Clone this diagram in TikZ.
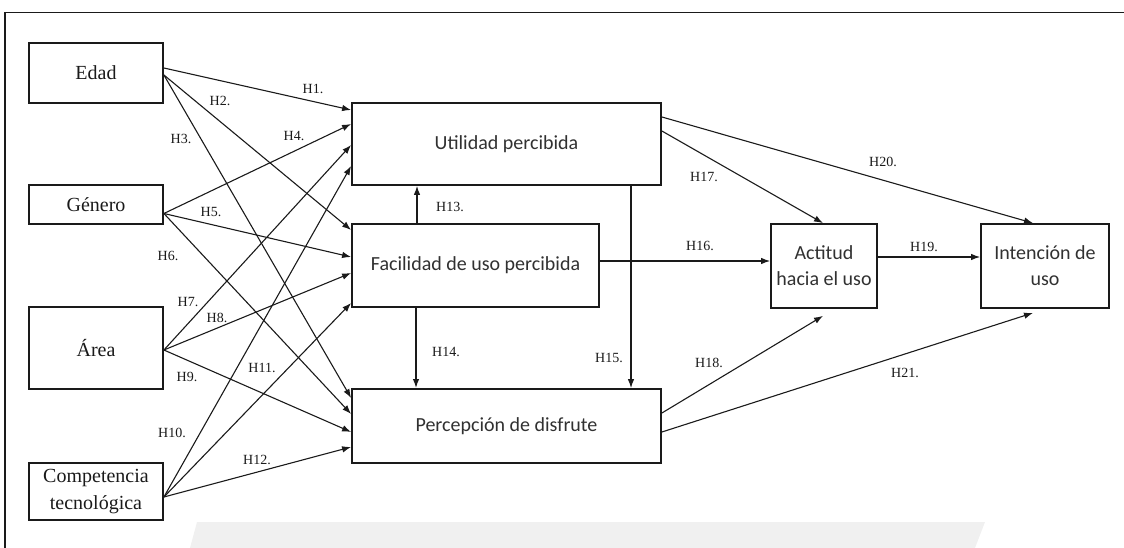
\documentclass[tikz,border=0pt]{standalone}
\usepackage{fontspec}
\setmainfont{Liberation Serif}
\newfontfamily\calib{Carlito}
\usetikzlibrary{arrows.meta}
\definecolor{ink}{HTML}{1A1A1A}
\definecolor{soft}{HTML}{F0F0F0}
\begin{document}
\begin{tikzpicture}[x=1pt,y=-1pt,
  box/.style={draw=ink,line width=1.8pt,fill=white,inner sep=0pt,align=center,
    font=\fontsize{20}{27}\selectfont,text=ink},
  cbox/.style={box,font=\calib\fontsize{20}{26}\selectfont,text=ink!90},
  link/.style={draw=ink,line width=1.1pt,-{Latex[length=9pt,width=6.5pt]}},
  hyp/.style={font=\fontsize{14}{14}\selectfont,inner sep=0pt,text=ink}]
\useasboundingbox (0,0) rectangle (1124,548);

% faint band along the lower edge
\fill[soft] (197,522) -- (985,522) -- (975,548) -- (190,548) -- cycle;

% frame
\draw[ink,line width=1.6pt] (1124,12.5) -- (5,12.5) -- (5,548);

% external variables
\node[box,minimum width=134pt,minimum height=60pt] (edad) at (96,73) {Edad};
\node[box,minimum width=134pt,minimum height=39pt] (gen) at (96,204.5) {Género};
\node[box,minimum width=134pt,minimum height=82pt] (area) at (96,348) {Área};
\node[box,minimum width=134pt,minimum height=57pt] (comp) at (96,491.5) {Competencia\\tecnológica};

% TAM constructs
\node[cbox,minimum width=309pt,minimum height=82pt] (util) at (506.5,144) {Utilidad percibida};
\node[cbox,minimum width=247pt,minimum height=83pt] (fac) at (475.5,265.5) {Facilidad de uso percibida};
\node[cbox,minimum width=309pt,minimum height=74pt] (perc) at (506.5,426) {Percepción de disfrute};
\node[cbox,minimum width=106pt,minimum height=84pt] (act) at (824,266) {Actitud\\hacia el uso};
\node[cbox,minimum width=128pt,minimum height=84pt] (int) at (1045,266) {Intención de\\uso};

% hypotheses from external variables
\draw[link] ([yshift=5pt]edad.east) -- ([yshift=34pt]util.west);
\draw[link] ([yshift=-2pt]edad.east) -- ([yshift=35.5pt]fac.west);
\draw[link] ([yshift=-2pt]edad.east) -- ([yshift=28pt]perc.west);
\draw[link] ([yshift=-9pt]gen.east) -- ([yshift=20pt]util.west);
\draw[link] ([yshift=-9pt]gen.east) -- ([yshift=8.5pt]fac.west);
\draw[link] ([yshift=-9pt]gen.east) -- ([yshift=12pt]perc.west);
\draw[link] ([yshift=-2pt]area.east) -- ([yshift=-1pt]util.west);
\draw[link] ([yshift=-2pt]area.east) -- ([yshift=-7.5pt]fac.west);
\draw[link] ([yshift=-2pt]area.east) -- ([yshift=-6pt]perc.west);
\draw[link] ([yshift=-5.5pt]comp.east) -- ([yshift=-22pt]util.west);
\draw[link] ([yshift=-5.5pt]comp.east) -- ([yshift=-37.5pt]fac.west);
\draw[link] ([yshift=-5.5pt]comp.east) -- ([yshift=-21pt]perc.west);

% hypotheses among constructs
\draw[link] ([xshift=-58.5pt]fac.north) -- ([xshift=-58.5pt]fac.north |- util.south);
\draw[link,line width=1.5pt] ([xshift=-59.5pt]fac.south) -- ([xshift=-59.5pt]fac.south |- perc.north);
\draw[link] ([xshift=124.5pt]util.south) -- ([xshift=124.5pt]perc.north);
\draw[link] ([yshift=4.5pt]fac.east) -- ([yshift=4.5pt]fac.east -| act.west);
\draw[link] ([yshift=13pt]util.east) -- ([xshift=-1pt]act.north);
\draw[link] ([yshift=13pt]perc.east) -- ([xshift=-1pt,yshift=-7pt]act.south);
\draw[link] ([yshift=9pt]act.east) -- ([yshift=9pt]act.east -| int.west);
\draw[link] ([yshift=27pt]util.east) -- ([xshift=-12pt]int.north);
\draw[link] ([yshift=-6pt]perc.east) -- ([xshift=-12pt,yshift=-4pt]int.south);

% hypothesis labels
\node[hyp] (h1) at (313,89) {H1.};
\node[hyp] (h2) at (220,101) {H2.};
\node[hyp] (h3) at (181,139) {H3.};
\node[hyp] (h4) at (294,136) {H4.};
\node[hyp] (h5) at (211,212) {H5.};
\node[hyp] (h6) at (168,256) {H6.};
\node[hyp] (h7) at (188,302) {H7.};
\node[hyp] (h8) at (217,318) {H8.};
\node[hyp] (h9) at (187,377) {H9.};
\node[hyp] (h10) at (172,433) {H10.};
\node[hyp] (h11) at (262,368) {H11.};
\node[hyp] (h12) at (257,460) {H12.};
\node[hyp] (h13) at (450,207) {H13.};
\node[hyp] (h14) at (446,352) {H14.};
\node[hyp] (h15) at (609,358) {H15.};
\node[hyp] (h16) at (700,246) {H16.};
\node[hyp] (h17) at (704,177) {H17.};
\node[hyp] (h18) at (709,363) {H18.};
\node[hyp] (h19) at (924,247) {H19.};
\node[hyp] (h20) at (883,162) {H20.};
\node[hyp] (h21) at (905,373) {H21.};
\end{tikzpicture}
\end{document}
